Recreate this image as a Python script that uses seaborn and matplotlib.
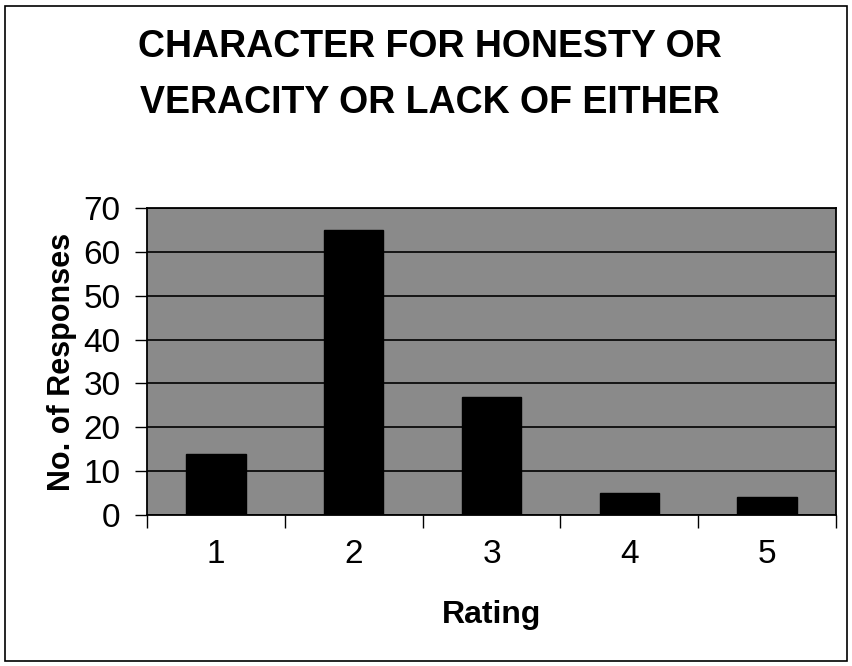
import matplotlib
matplotlib.use("Agg")
import matplotlib.pyplot as plt
import seaborn as sns
import pandas as pd
from matplotlib.patches import Rectangle

ratings = ["1", "2", "3", "4", "5"]
responses = [14, 65, 27, 5, 4]
title_lines = ["CHARACTER FOR HONESTY OR", "VERACITY OR LACK OF EITHER"]
xlabel = "Rating"
ylabel = "No. of Responses"

sns.set_theme(style="white")
plt.rcParams['font.family'] = ['Liberation Sans', 'DejaVu Sans']

df = pd.DataFrame({"Rating": ratings, "Responses": responses})

W, H = 852, 666
fig = plt.figure(figsize=(W/100, H/100), dpi=100)
ax = fig.add_axes([147/W, 1-515/H, (836-147)/W, (515-208)/H])

sns.barplot(data=df, x="Rating", y="Responses", color="black", width=0.43,
            saturation=1, ax=ax, zorder=3, edgecolor="black", linewidth=1)
ax.set_facecolor("#8a8a8a")
ax.set_ylim(0, 70)
ax.set_xlim(-0.5, 4.5)
ax.set_yticks(range(0, 71, 10))
ax.yaxis.grid(True, color="black", linewidth=1.2, zorder=1)
ax.set_axisbelow(True)
for s in ax.spines.values():
    s.set_color("black")
    s.set_linewidth(1.3)

ax.set_xticks([0, 1, 2, 3, 4])
ax.set_xticklabels(ratings, fontsize=24)
ax.tick_params(axis="x", length=0, pad=17)
ax.set_xticks([-0.5, 0.5, 1.5, 2.5, 3.5, 4.5], minor=True)
ax.tick_params(axis="x", which="minor", length=9, width=1, color="black", bottom=True)
ax.tick_params(axis="y", labelsize=24, length=9, width=1, color="black", left=True, pad=10)
for t in ax.get_yticklabels() + ax.get_xticklabels():
    t.set_color("black")

ax.set_xlabel(xlabel, fontsize=23, fontweight="bold", color="black", va="top")
ax.xaxis.set_label_coords(0.5, (515-600)/307)
ax.set_ylabel(ylabel, fontsize=22, fontweight="bold", color="black", va="center")
ax.yaxis.set_label_coords((62-147)/689, 0.5)

fig.text(430/W, 1-57/H, title_lines[0], ha="center", va="baseline", fontsize=27,
         fontweight="bold", color="black")
fig.text(430/W, 1-113/H, title_lines[1], ha="center", va="baseline", fontsize=27,
         fontweight="bold", color="black")

fig.patches.append(Rectangle((5/W, 5/H), 842/W, 655/H, transform=fig.transFigure,
                             fill=False, edgecolor="black", linewidth=1.2))

fig.savefig("out.png", dpi=100)
